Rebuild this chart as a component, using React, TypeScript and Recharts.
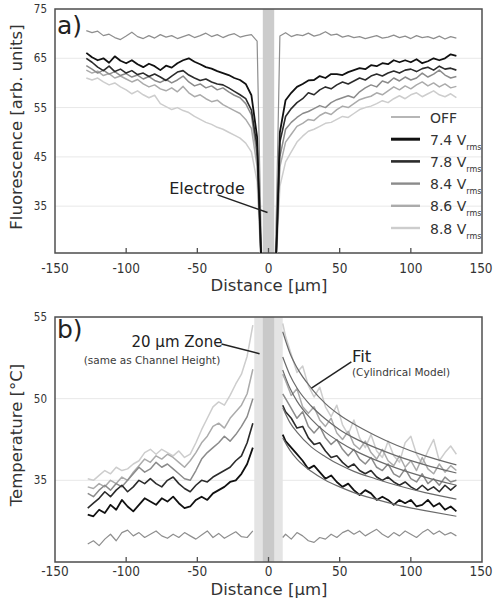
import React from "react";
import {
  LineChart,
  Line,
  XAxis,
  YAxis,
  CartesianGrid,
  ReferenceArea,
  ReferenceLine,
} from "recharts";

// ---------- Panel a: fluorescence profiles ----------
const distanceA = [
  -128, -124, -120, -116, -112, -108, -104, -100, -96, -92, -88, -84, -80, -76, -72, -68,
  -64, -60, -56, -52, -48, -44, -40, -36, -32, -28, -24, -20, -16, -12, -8,
  -6, -4, 4, 6,
  8, 12, 16, 20, 24, 28, 32, 36, 40, 44, 48, 52, 56, 60, 64, 68, 72, 76, 80, 84, 88, 92,
  96, 100, 104, 108, 112, 116, 120, 124, 128, 132,
];

const fluorOff = [
  70.6, 70.2, 70.5, 69.6, 69.9, 69.2, 68.8, 69.5, 70.3, 69.4, 69.0, 69.6, 69.1, 69.8, 69.3, 69.6,
  69.0, 69.4, 69.8, 69.2, 69.6, 70.1, 69.4, 69.8, 69.2, 69.7, 70.0, 69.3, 69.6, 69.8, 68.5,
  40, 15, 15, 40,
  69.5, 70.2, 69.4, 69.8, 69.6, 70.1, 69.5, 69.8, 70.4, 69.7, 69.9, 69.3, 69.6, 69.2, 69.4, 69.0,
  69.3, 69.6, 69.1, 69.3, 69.7, 69.2, 69.5, 69.0, 69.6, 69.2, 69.4, 69.0, 69.5, 68.9, 69.4, 69.1,
];
const fluor74 = [
  66.1, 65.2, 64.6, 65.0, 64.1, 65.4, 64.5, 64.0, 64.6, 63.8, 63.2, 63.9, 63.4, 62.6, 63.5, 63.1,
  64.0, 64.6, 65.0, 64.3, 63.8, 63.2, 62.9, 62.4, 62.0, 61.6, 61.0, 60.6, 59.8, 57.5, 49.0,
  32, 15, 15, 30,
  50.0, 56.5, 58.0, 59.2, 59.8, 60.5, 60.6, 61.4, 61.0, 61.8, 61.8, 61.6, 62.2, 62.6, 63.0, 62.8,
  63.6, 63.4, 64.0, 63.8, 64.6, 64.2, 64.6, 64.2, 64.8, 64.0, 64.4, 65.0, 64.6, 65.0, 65.8, 65.5,
];
const fluor78 = [
  65.0, 64.2, 63.2, 62.5, 63.4, 62.3, 62.8, 62.0, 62.5, 61.7, 62.0, 61.3, 61.8, 61.2, 60.5, 61.4,
  62.2, 62.5, 61.6, 61.0, 60.5, 60.8, 60.2, 59.8, 59.6, 59.0, 58.3, 57.6, 56.8, 54.5, 47.0,
  31, 15, 15, 30,
  48.0, 53.2, 54.8, 56.0, 56.8, 58.0, 57.6, 58.6, 59.2, 58.8, 59.6, 60.2, 59.8, 60.4, 61.0, 60.6,
  61.4, 61.8, 61.4, 62.0, 62.4, 62.0, 62.6, 62.8, 62.3, 62.9, 63.2, 62.6, 63.4, 62.8, 63.0, 62.6,
];
const fluor84 = [
  63.5, 62.8, 62.0, 62.6, 61.8, 62.3, 61.5, 61.9, 61.2, 61.6, 60.8, 61.3, 60.5, 60.1, 60.7, 60.0,
  60.6, 61.4, 60.2, 59.4, 59.8, 59.0, 59.4, 58.6, 59.0, 58.2, 57.5, 57.0, 55.8, 53.5, 45.0,
  30, 15, 15, 29,
  45.0, 50.6, 52.0, 53.0, 53.8, 54.2, 54.8, 55.4, 55.0, 56.0, 56.6, 57.0, 57.4, 57.0, 58.2, 59.0,
  59.6, 59.2, 60.4, 60.0, 61.0, 60.4, 61.2, 60.6, 61.0, 62.0, 61.2, 61.8, 62.6, 61.6, 61.0, 61.3,
];
const fluor86 = [
  62.6, 62.0, 62.4, 61.5, 61.9, 61.0, 61.4, 60.8, 60.2, 60.7, 59.8, 59.2, 59.6, 58.8, 58.4, 59.0,
  58.2, 59.3, 58.0, 57.2, 57.6, 56.8, 56.2, 56.5, 55.6, 55.0, 54.4, 53.8, 52.6, 50.8, 43.0,
  29, 15, 15, 28,
  43.0, 48.0, 49.6, 51.2, 51.8, 52.6, 52.4, 53.4, 54.0, 53.6, 54.6, 55.3, 55.0, 55.8, 56.6, 57.0,
  57.3, 58.0, 57.6, 58.4, 59.2, 58.6, 59.4, 58.8, 59.6, 60.2, 59.4, 60.0, 59.2, 59.8, 59.0, 59.3,
];
const fluor88 = [
  61.0, 60.6, 61.0, 60.2, 59.6, 60.0, 59.2, 58.6, 57.8, 58.4, 57.6, 57.0, 57.5, 55.8, 55.2, 54.6,
  55.0, 54.4, 54.0, 53.2, 52.6, 52.0, 51.6, 51.0, 50.6, 50.0, 49.4, 48.8, 47.8, 46.0, 40.0,
  28, 15, 15, 27,
  39.0, 44.0, 46.0, 48.0, 49.2, 50.2, 50.6, 51.2, 51.8, 52.0, 52.6, 53.2, 53.0, 53.8, 54.6, 55.0,
  55.3, 55.8, 56.4, 56.0, 56.8, 57.4, 56.8, 57.6, 58.0, 57.2, 57.8, 58.4, 57.6, 57.2, 57.8, 57.0,
];

// ---------- Panel b: temperature profiles ----------
const distanceBLeft = [
  -127, -123, -119, -115, -111, -107, -103, -99, -95, -91, -87, -83, -79, -75, -71, -67,
  -63, -59, -55, -51, -47, -43, -39, -35, -31, -27, -23, -19, -15, -11,
];
const distanceBRight = [
  10, 12, 16, 20, 24, 28, 32, 36, 40, 44, 48, 52, 56, 60, 64, 68,
  72, 76, 80, 84, 88, 92, 96, 100, 104, 108, 112, 116, 120, 124, 128, 132,
];

const tempOffLeft = [
  27.2, 27.6, 27.0, 27.8, 28.4, 27.6, 28.6, 28.9, 28.2, 28.6, 28.0, 28.4, 28.8, 28.2, 27.9,
  28.4, 28.0, 28.6, 28.2, 27.8, 28.3, 28.8, 28.0, 28.5, 27.9, 28.3, 28.7, 28.1, 28.0, 28.8,
];
const tempOffRight = [
  28.0, 28.4, 27.8, 28.6, 28.2, 27.6, 27.4, 28.0, 27.8, 28.4, 28.0, 28.6, 28.9, 28.4, 28.8, 28.2,
  28.6, 29.0, 28.4, 28.0, 28.6, 28.2, 28.8, 28.4, 28.0, 28.6, 29.0, 28.4, 28.8, 28.3, 28.6, 28.2,
];
const temp74Left = [
  30.8, 30.6, 31.4, 31.0, 32.0, 31.4, 32.6, 31.8, 31.2, 32.0, 32.8, 32.4, 32.0, 32.8, 32.4,
  33.0, 32.2, 31.6, 31.8, 32.6, 33.0, 32.6, 33.4, 33.8, 34.2, 34.8, 35.0, 35.8, 37.0, 39.0,
];
const temp74Right = [
  40.6, 39.8, 39.0, 38.2, 37.4, 36.4, 36.8, 36.0, 35.2, 35.6, 34.8, 34.2, 34.6, 33.8, 33.2, 33.8,
  33.4, 32.6, 33.0, 32.6, 32.0, 32.6, 32.2, 32.6, 31.8, 32.0, 32.6, 31.8, 32.2, 31.4, 31.8, 31.2,
];
const temp78Left = [
  31.6, 32.2, 32.8, 33.6, 33.0, 33.8, 34.4, 33.6, 34.2, 35.0, 34.6, 35.2, 34.6, 34.2, 35.0,
  35.4, 34.6, 34.0, 33.6, 34.4, 35.0, 34.8, 35.4, 35.8, 36.2, 36.6, 37.4, 38.0, 39.6, 42.0,
];
const temp78Right = [
  44.2, 43.4, 42.6, 41.4, 41.6, 40.2, 39.4, 39.6, 38.6, 37.8, 38.0, 37.2, 36.6, 37.0, 36.2, 35.8,
  36.2, 35.4, 35.0, 35.4, 34.8, 34.4, 34.8, 34.2, 33.8, 34.4, 33.8, 34.2, 33.6, 34.4, 33.8, 34.4,
];
const temp84Left = [
  33.4, 33.0, 33.8, 34.4, 33.8, 34.6, 34.2, 35.0, 35.8, 36.6, 36.0, 36.4, 37.2, 36.6, 37.0,
  36.4, 35.8, 35.2, 35.0, 36.2, 37.6, 38.4, 39.0, 39.6, 40.4, 39.8, 40.6, 41.6, 42.8, 45.0,
];
const temp84Right = [
  45.6, 45.0, 43.8, 42.6, 43.4, 41.6, 40.8, 41.6, 40.2, 39.4, 40.0, 38.8, 38.0, 38.8, 37.6, 37.0,
  37.8, 36.6, 36.2, 37.0, 35.8, 35.4, 36.4, 35.2, 34.8, 35.8, 34.6, 35.2, 34.4, 35.4, 34.8, 35.0,
];
const temp86Left = [
  34.2, 34.0, 34.6, 34.2, 35.0, 34.6, 35.4, 35.0, 36.0, 36.8, 37.6, 37.2, 38.0, 37.6, 38.2,
  37.8, 37.2, 36.6, 37.4, 38.4, 39.6, 40.4, 41.6, 42.0, 41.4, 42.6, 43.4, 44.2, 45.6, 48.6,
];
const temp86Right = [
  48.0, 47.2, 45.4, 46.2, 44.0, 43.2, 44.0, 42.4, 41.6, 42.6, 40.8, 40.0, 41.0, 39.4, 38.8, 39.8,
  38.4, 37.6, 38.8, 37.4, 36.8, 38.0, 36.6, 37.4, 36.2, 37.8, 36.4, 35.8, 37.0, 36.0, 36.8, 36.2,
];
const temp88Left = [
  35.2, 35.0, 35.6, 36.2, 35.8, 36.6, 36.2, 36.4, 37.0, 37.4, 38.4, 38.8, 38.2, 38.8, 38.4,
  38.0, 38.6, 37.8, 38.2, 39.6, 41.2, 42.6, 44.0, 44.6, 44.2, 45.4, 46.8, 48.0, 50.2, 54.0,
];
const temp88Right = [
  54.2, 52.6, 50.4, 48.2, 49.0, 46.6, 45.2, 46.4, 44.0, 42.8, 44.2, 41.8, 40.6, 42.4, 40.2, 39.0,
  40.6, 38.6, 37.8, 39.8, 38.0, 37.2, 39.6, 40.4, 38.2, 37.0, 38.6, 40.0, 37.4, 38.4, 39.2, 38.2,
];

// Cylindrical-model fit curves (right side of the electrode)
const fitDistance = [10, 15, 20, 30, 40, 50, 60, 75, 90, 110, 132];
const fitCurves = [
  [53.2, 50.6, 48.8, 46.3, 44.4, 43.0, 41.9, 40.5, 39.3, 38.0, 36.9],
  [50.1, 47.9, 46.3, 44.1, 42.5, 41.2, 40.2, 39.0, 38.0, 36.9, 35.9],
  [48.5, 46.3, 44.7, 42.5, 40.9, 39.7, 38.7, 37.5, 36.5, 35.4, 34.4],
  [43.9, 42.1, 40.9, 39.1, 37.9, 36.9, 36.1, 35.2, 34.4, 33.5, 32.7],
  [40.2, 38.7, 37.6, 36.1, 35.0, 34.2, 33.5, 32.7, 32.0, 31.3, 30.6],
];

// Axis ticks
const distanceTicks = [-150, -100, -50, 0, 50, 100, 150];
const fluorTicks = [35, 45, 55, 65, 75];
const tempTicks = [35, 45, 55];
const tempTickLabels = ["35", "50", "55"];

// Series appearance
const series = [
  { key: "v88", label: "8.8 V", sub: "rms", color: "#cdcdcd", width: 1.5, legendWidth: 2.4 },
  { key: "v86", label: "8.6 V", sub: "rms", color: "#ababab", width: 1.5, legendWidth: 2.4 },
  { key: "v84", label: "8.4 V", sub: "rms", color: "#8b8b8b", width: 1.5, legendWidth: 2.4 },
  { key: "off", label: "OFF", sub: "", color: "#8e8e8e", width: 1.2, legendWidth: 1.3 },
  { key: "v78", label: "7.8 V", sub: "rms", color: "#2b2b2b", width: 1.6, legendWidth: 2.6 },
  { key: "v74", label: "7.4 V", sub: "rms", color: "#111111", width: 1.8, legendWidth: 3 },
];
const legendOrder = ["off", "v74", "v78", "v84", "v86", "v88"];

const rowsA = distanceA.map((d, i) => ({
  d,
  off: fluorOff[i],
  v74: fluor74[i],
  v78: fluor78[i],
  v84: fluor84[i],
  v86: fluor86[i],
  v88: fluor88[i],
}));

const rowsB = [
  ...distanceBLeft.map((d, i) => ({
    d,
    off: tempOffLeft[i],
    v74: temp74Left[i],
    v78: temp78Left[i],
    v84: temp84Left[i],
    v86: temp86Left[i],
    v88: temp88Left[i],
  })),
  { d: 0, off: null, v74: null, v78: null, v84: null, v86: null, v88: null },
  ...distanceBRight.map((d, i) => ({
    d,
    off: tempOffRight[i],
    v74: temp74Right[i],
    v78: temp78Right[i],
    v84: temp84Right[i],
    v86: temp86Right[i],
    v88: temp88Right[i],
  })),
];

const fitRows = fitCurves.map((curve) => fitDistance.map((d, i) => ({ d, t: curve[i] })));

const FONT = "'DejaVu Sans', Verdana, sans-serif";
const NARROW = "'DejaVu Sans Condensed', 'Liberation Sans Narrow', sans-serif";
const INK = "#333333";
const FRAME = "#505050";

const makeDistanceTick = (labelDrop: number) => (props: any) => {
  const { x, y, payload } = props;
  const edge = payload.value === -150 || payload.value === 150;
  return (
    <g>
      {!edge && <line x1={x} x2={x} y1={y} y2={y - 5} stroke={FRAME} strokeWidth={1.3} />}
      <text x={x} y={y + labelDrop} textAnchor="middle" fontFamily={NARROW} fontSize={13.5} fill={INK}>
        {payload.value}
      </text>
    </g>
  );
};
const TickA = makeDistanceTick(20);
const TickB = makeDistanceTick(14);

const xAxisBase = {
  dataKey: "d",
  type: "number" as const,
  domain: [-150, 150],
  ticks: distanceTicks,
  tickLine: false,
  axisLine: false,
  tickSize: 0,
  tickMargin: 0,
  height: 30,
  allowDataOverflow: true,
};

const yTickStyle = { fontFamily: NARROW, fontSize: 11.5, fill: INK };

function LegendBlock() {
  return (
    <g>
      {legendOrder.map((k, i) => {
        const s = series.find((e) => e.key === k)!;
        const y = 117 + i * 22.2;
        return (
          <g key={k}>
            <line x1={391} x2={420} y1={y} y2={y} stroke={s.color} strokeWidth={s.legendWidth} />
            <text x={430} y={y + 5.5} fontFamily={FONT} fontSize={14} fill={INK}>
              {s.label}
              {s.sub && (
                <tspan fontSize={8} dy={5}>
                  {s.sub}
                </tspan>
              )}
            </text>
          </g>
        );
      })}
    </g>
  );
}

function PanelA() {
  return (
    <LineChart width={493} height={300} data={rowsA} margin={{ top: 9, right: 11, bottom: 17, left: 25 }}>
      <CartesianGrid horizontal vertical={false} stroke="#e8e8e8" strokeWidth={1} />
      <ReferenceArea x1={-4} x2={4} y1={25.5} y2={75} fill="#cccccc" fillOpacity={1} stroke="none" />
      <XAxis {...xAxisBase} tick={<TickA />} />
      <YAxis
        type="number"
        domain={[25.5, 75]}
        ticks={fluorTicks}
        allowDataOverflow
        tickLine={false}
        axisLine={false}
        tickSize={0}
        tickMargin={8}
        width={30}
        tick={yTickStyle}
      />
      {series.map((s) => (
        <Line
          key={s.key}
          dataKey={s.key}
          stroke={s.color}
          strokeWidth={s.width}
          dot={false}
          type="linear"
          isAnimationActive={false}
          strokeLinejoin="round"
        />
      ))}
      <ReferenceLine
        segment={[
          { x: -35.8, y: 37.3 },
          { x: -0.7, y: 33.7 },
        ]}
        stroke="#222"
        strokeWidth={1.5}
      />
      <ReferenceArea x1={-150} x2={150} y1={25.5} y2={75} fill="none" stroke={FRAME} strokeWidth={1.5} />
      <text x={57} y={34} fontFamily={FONT} fontSize={25} fill="#222">
        a)
      </text>
      <text x={207} y={194} textAnchor="middle" fontFamily={FONT} fontSize={16} fill="#222">
        Electrode
      </text>
      <text x={269} y={291} textAnchor="middle" fontFamily={FONT} fontSize={16.5} fill={INK}>
        Distance [µm]
      </text>
      <text
        x={22}
        y={127}
        textAnchor="middle"
        fontFamily={FONT}
        fontSize={16.5}
        fill={INK}
        transform="rotate(-90, 22, 127)"
      >
        Fluorescence [arb. units]
      </text>
      <LegendBlock />
    </LineChart>
  );
}

function PanelB() {
  return (
    <LineChart width={493} height={306} data={rowsB} margin={{ top: 17, right: 11, bottom: 14, left: 25 }}>
      <CartesianGrid horizontal vertical={false} stroke="#e8e8e8" strokeWidth={1} />
      <ReferenceArea x1={-10} x2={10} y1={25} y2={55} fill="#e4e4e4" fillOpacity={1} stroke="none" />
      <ReferenceArea x1={-4} x2={4} y1={25} y2={55} fill="#c9c9c9" fillOpacity={1} stroke="none" />
      <XAxis {...xAxisBase} tick={<TickB />} />
      <YAxis
        type="number"
        domain={[25, 55]}
        ticks={tempTicks}
        tickFormatter={(v: number) => tempTickLabels[tempTicks.indexOf(v)]}
        allowDataOverflow
        tickLine={false}
        axisLine={false}
        tickSize={0}
        tickMargin={8}
        width={30}
        tick={yTickStyle}
      />
      {series.map((s) => (
        <Line
          key={s.key}
          dataKey={s.key}
          stroke={s.color}
          strokeWidth={s.width}
          dot={false}
          type="linear"
          connectNulls={false}
          isAnimationActive={false}
          strokeLinejoin="round"
        />
      ))}
      {fitRows.map((rows, i) => (
        <Line
          key={`fit${i}`}
          data={rows}
          dataKey="t"
          stroke="#6a6a6a"
          strokeWidth={1.2}
          dot={false}
          type="monotone"
          isAnimationActive={false}
        />
      ))}
      <ReferenceLine
        segment={[
          { x: -33, y: 51.7 },
          { x: -6.3, y: 50.5 },
        ]}
        stroke="#222"
        strokeWidth={1.5}
      />
      <ReferenceLine
        segment={[
          { x: 58.2, y: 49.5 },
          { x: 30.2, y: 46.3 },
        ]}
        stroke="#222"
        strokeWidth={1.5}
      />
      <ReferenceArea x1={-150} x2={150} y1={25} y2={55} fill="none" stroke={FRAME} strokeWidth={1.5} />
      <text x={57} y={38} fontFamily={FONT} fontSize={25} fill="#222">
        b)
      </text>
      <text x={177} y={47} textAnchor="middle" fontFamily={FONT} fontSize={15} fill="#222">
        20 µm Zone
      </text>
      <text x={152} y={64} textAnchor="middle" fontFamily={FONT} fontSize={10.5} fill="#3a3a3a">
        (same as Channel Height)
      </text>
      <text x={352} y={62} fontFamily={FONT} fontSize={16.5} fill="#222">
        Fit
      </text>
      <text x={352} y={76} fontFamily={FONT} fontSize={10.5} fill="#3a3a3a">
        (Cylindrical Model)
      </text>
      <text x={269} y={295} textAnchor="middle" fontFamily={FONT} fontSize={16.5} fill={INK}>
        Distance [µm]
      </text>
      <text
        x={22}
        y={135}
        textAnchor="middle"
        fontFamily={FONT}
        fontSize={16.5}
        fill={INK}
        transform="rotate(-90, 22, 135)"
      >
        Temperature [°C]
      </text>
    </LineChart>
  );
}

export default function App() {
  return (
    <div style={{ position: "absolute", left: 0, top: 0, width: 493, height: 606, background: "#fff" }}>
      <div style={{ position: "absolute", left: 0, top: 0 }}>
        <PanelA />
      </div>
      <div style={{ position: "absolute", left: 0, top: 300 }}>
        <PanelB />
      </div>
    </div>
  );
}
